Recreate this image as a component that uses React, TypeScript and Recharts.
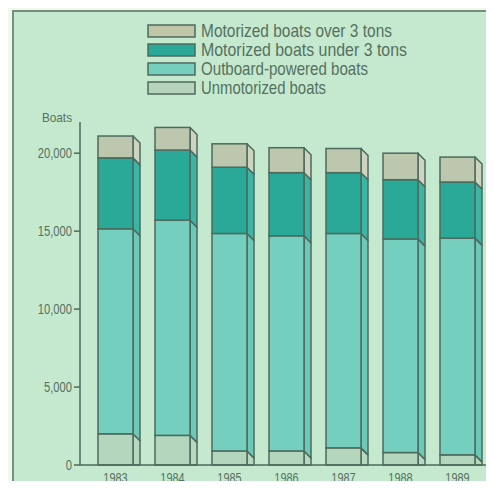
import React from 'react';
import { BarChart, Bar, XAxis, YAxis } from 'recharts';

const years = ['1983', '1984', '1985', '1986', '1987', '1988', '1989'];
const unmotorized = [2000, 1900, 900, 900, 1100, 800, 650];
const outboard = [13150, 13800, 13950, 13800, 13750, 13700, 13900];
const under3 = [4550, 4500, 4250, 4050, 3900, 3800, 3600];
const over3 = [1400, 1450, 1500, 1600, 1550, 1700, 1600];
const yTicks = [0, 5000, 10000, 15000, 20000];

const data = years.map((y, i) => ({
  year: y,
  unmotorized: unmotorized[i],
  outboard: outboard[i],
  under3: under3[i],
  over3: over3[i],
}));

const FONT = '"Liberation Sans", Arial, sans-serif';
const INK = '#4d6a5d';
const TEXT = '#56705f';

const series = [
  { key: 'unmotorized', name: 'Unmotorized boats', front: '#b3d6bd', side: '#b8d8c0', legend: '#b7d3bb', bottom: true, tw: 125 },
  { key: 'outboard', name: 'Outboard-powered boats', front: '#74cfbf', side: '#6cc9b8', legend: '#74cfbf', bottom: false, tw: 167 },
  { key: 'under3', name: 'Motorized boats under 3 tons', front: '#2aa898', side: '#3cb4a6', legend: '#2aa898', bottom: false, tw: 206 },
  { key: 'over3', name: 'Motorized boats over 3 tons', front: '#bcc7ad', side: '#cdd5c0', legend: '#c2c6a9', bottom: false, tw: 191 },
];

const makeShape = (front: string, side: string, bottom: boolean) => (props: any) => {
  const { x, y, width, height } = props;
  if (height == null || isNaN(height)) return <g />;
  const d = 7;
  const dy = 7;
  const x2 = x + width;
  const yb = bottom ? y + height : y + height + dy;
  const pts = `${x2},${y} ${x2 + d},${y + dy} ${x2 + d},${yb} ${x2},${y + height}`;
  return (
    <g>
      <polygon points={pts} fill={side} stroke={INK} strokeWidth={1.5} strokeLinejoin="round" />
      <rect x={x} y={y} width={width} height={height} fill={front} stroke={INK} strokeWidth={1.5} />
    </g>
  );
};

const YTick = (props: any) => {
  const { x, y, payload } = props;
  return (
    <g transform={`translate(${x},${y})`}>
      <text x={0} y={0} dy={5} textAnchor="end" fill={TEXT} fontSize={14} fontFamily={FONT} transform="scale(0.8,1)">
        {Number(payload.value).toLocaleString('en-US')}
      </text>
    </g>
  );
};

const XTick = (props: any) => {
  const { x, payload } = props;
  return (
    <g transform={`translate(${x},483)`}>
      <text x={0} y={0} textAnchor="middle" fill={TEXT} fontSize={14} fontFamily={FONT} transform="scale(0.78,1)">
        {payload.value}
      </text>
    </g>
  );
};

const legendItems = [...series].reverse();
const legendBaselines = [37, 56, 75, 94];

export default function App() {
  return (
    <div style={{ position: 'relative', width: 494, height: 489, margin: -8, background: '#f4f6ee', overflow: 'hidden' }}>
      <div
        style={{
          position: 'absolute',
          left: 12,
          top: 10,
          right: 0,
          bottom: 0,
          background: '#c4e9cf',
          borderLeft: `2px solid #72907f`,
          borderTop: `2px solid #72907f`,
        }}
      />
      <div style={{ position: 'absolute', left: 0, top: 0 }}>
        <BarChart
          width={494}
          height={489}
          data={data}
          margin={{ top: 122, right: 8, bottom: 0, left: 0 }}
          barCategoryGap={0}
        >
          <XAxis
            dataKey="year"
            height={24}
            padding={{ left: 7, right: 0 }}
            axisLine={{ stroke: INK, strokeWidth: 1.5 }}
            tickLine={false}
            tick={<XTick />}
            interval={0}
          />
          <YAxis
            width={80}
            domain={[0, 22000]}
            ticks={yTicks}
            axisLine={{ stroke: INK, strokeWidth: 1.5 }}
            tickLine={{ stroke: INK, strokeWidth: 1.5 }}
            tickSize={6}
            tick={<YTick />}
            interval={0}
            label={{
              content: () => (
                <text x={57} y={122} textAnchor="middle" fill={TEXT} fontSize={13} fontFamily={FONT} textLength={30} lengthAdjust="spacingAndGlyphs">
                  Boats
                </text>
              ),
            }}
          />
          {series.map((s) => (
            <Bar
              key={s.key}
              dataKey={s.key}
              name={s.name}
              stackId="a"
              barSize={35}
              fill={s.front}
              isAnimationActive={false}
              shape={makeShape(s.front, s.side, s.bottom)}
            />
          ))}
        </BarChart>
      </div>
      <svg width={494} height={110} style={{ position: 'absolute', left: 0, top: 0 }}>
        {legendItems.map((s, i) => {
          const b = legendBaselines[i];
          return (
            <g key={s.key}>
              <rect x={148} y={b - 12} width={47} height={12} fill={s.legend} stroke={INK} strokeWidth={1.5} />
              <text
                x={201}
                y={b}
                fill={TEXT}
                fontSize={19}
                fontFamily={FONT}
                textLength={s.tw}
                lengthAdjust="spacingAndGlyphs"
              >
                {s.name}
              </text>
            </g>
          );
        })}
      </svg>
    </div>
  );
}
